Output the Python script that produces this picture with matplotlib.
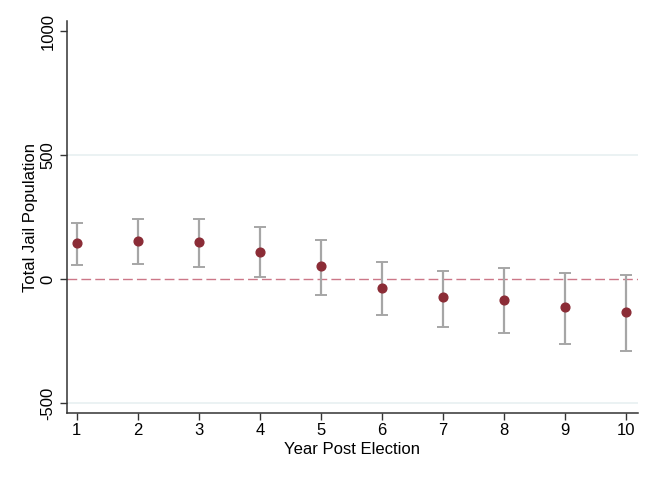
import numpy as np
import matplotlib.pyplot as plt

plt.rcParams['font.family'] = ['Liberation Sans', 'DejaVu Sans']

# --- data ---
years = [1, 2, 3, 4, 5, 6, 7, 8, 9, 10]
estimate = [148, 156, 152, 111, 52, -35, -73, -82, -112, -133]
ci_low = [58, 60, 51, 9, -64, -145, -192, -215, -262, -290]
ci_high = [228, 243, 243, 210, 158, 70, 33, 47, 27, 18]

est = np.array(estimate)
yerr = np.vstack([est - np.array(ci_low), np.array(ci_high) - est])

fig = plt.figure(figsize=(6.54, 4.78), dpi=100)
ax = fig.add_axes([0.102, 0.136, 0.8735, 0.82])

# grid lines like Stata's s2color
for g in [500, -500]:
    ax.axhline(g, color='#e8f0f1', lw=1.2, zorder=0)
ax.axhline(0, color='#cc7788', lw=1, dashes=(7, 3), zorder=1)

ax.errorbar(years, estimate, yerr=yerr, fmt='none', ecolor='#a6a6a6',
            elinewidth=1.6, capsize=4, capthick=1.4, zorder=2)
ax.plot(years, estimate, 'o', color='#8b2c36', ms=6.3, zorder=3)

ax.set_xlim(0.836, 10.197)
ax.set_ylim(-539, 1041)
ax.set_xticks(years)
ax.set_yticks([-500, 0, 500, 1000])
ax.set_yticklabels(['-500', '0', '500', '1000'], rotation=90, va='center')

for s in ['top', 'right']:
    ax.spines[s].set_visible(False)
for s in ['left', 'bottom']:
    ax.spines[s].set_color('#333333')
    ax.spines[s].set_linewidth(1.1)
ax.tick_params(length=5, width=1, color='#333333', labelsize=12, pad=3)
ax.tick_params(axis='x', pad=2)

ax.set_xlabel('Year Post Election', fontsize=12, labelpad=3)
ax.set_ylabel('Total Jail Population', fontsize=12, labelpad=2)

fig.savefig('out.png', dpi=100, facecolor='white')
